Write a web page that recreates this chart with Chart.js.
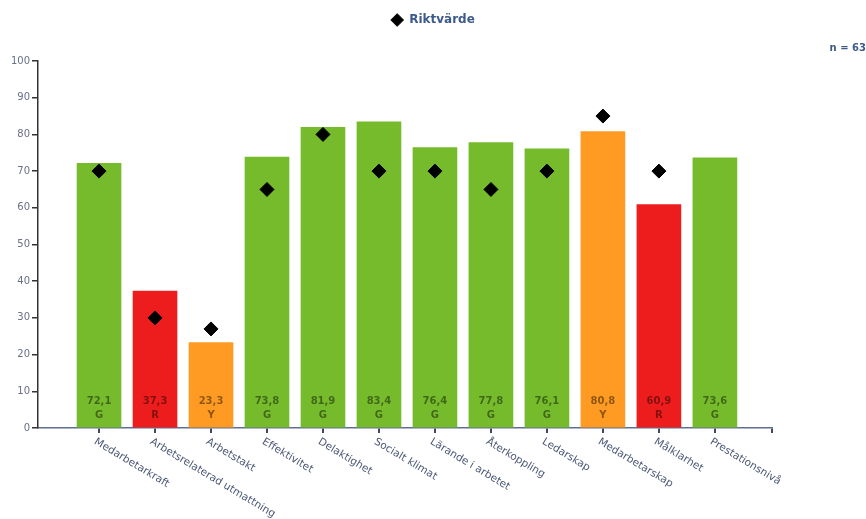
<!DOCTYPE html>
<html>
<head>
<meta charset="utf-8">
<script src="https://cdn.jsdelivr.net/npm/chart.js@4"></script>
<style>
  body { margin: 0; background: #fff; }
  #wrap { width: 866px; height: 519px; position: relative; }
</style>
</head>
<body>
<div id="wrap"><canvas id="chart"></canvas></div>
<script>
// --- data ---
const categories = [
    "Medarbetarkraft", "Arbetsrelaterad utmattning", "Arbetstakt", "Effektivitet",
    "Delaktighet", "Socialt klimat", "Lärande i arbetet", "Återkoppling",
    "Ledarskap", "Medarbetarskap", "Målklarhet", "Prestationsnivå"
];
const values = [72.1, 37.3, 23.3, 73.8, 81.9, 83.4, 76.4, 77.8, 76.1, 80.8, 60.9, 73.6];
const status = ["G", "R", "Y", "G", "G", "G", "G", "G", "G", "Y", "R", "G"];
const riktvarde = [70, 30, 27, 65, 80, 70, 70, 65, 70, 85, 70, null];
const yTicks = [0, 10, 20, 30, 40, 50, 60, 70, 80, 90, 100];
const sampleSize = "n = 63";

const statusColors = { G: "#76bb2b", R: "#ee1d1d", Y: "#ff9b22" };

// categories sit at x = 1..12 on a linear axis, a little room each side
const xMin = -0.09, xMax = 13.02;
const toPoints = arr => arr.map((v, i) => ({ x: i + 1, y: v }));

// rotated category labels, text starts at the tick
const rotatedLabels = {
    id: "rotatedLabels",
    afterDraw(chart) {
        const ctx = chart.ctx;
        const xs = chart.scales.x;
        ctx.save();
        ctx.font = "10.5px 'DejaVu Sans'";
        ctx.fillStyle = "#4a5775";
        ctx.textAlign = "left";
        ctx.textBaseline = "middle";
        categories.forEach((lab, i) => {
            const x = xs.getPixelForValue(i + 1);
            ctx.save();
            ctx.translate(x - 4, xs.top + 13);
            ctx.rotate(Math.PI / 180 * 31);
            ctx.fillText(lab, 0, 0);
            ctx.restore();
        });
        ctx.restore();
    }
};

// value + status inside the bar foot
const barValues = {
    id: "barValues",
    afterDatasetsDraw(chart) {
        const ctx = chart.ctx;
        const meta = chart.getDatasetMeta(0);
        const y0 = chart.scales.y.getPixelForValue(0);
        ctx.save();
        ctx.font = "bold 10px 'DejaVu Sans'";
        ctx.fillStyle = "rgba(0,0,0,0.45)";
        ctx.textAlign = "center";
        ctx.textBaseline = "middle";
        meta.data.forEach((bar, i) => {
            ctx.fillText(values[i].toFixed(1).replace(".", ","), bar.x, y0 - 27);
            ctx.fillText(status[i], bar.x, y0 - 13);
        });
        ctx.restore();
    }
};

new Chart(document.getElementById("chart"), {
    type: "bar",
    data: {
        datasets: [
            {
                label: "Resultat",
                data: toPoints(values),
                backgroundColor: status.map(s => statusColors[s]),
                barThickness: 44,
                order: 2,
            },
            {
                type: "line",
                label: "Riktvärde",
                data: toPoints(riktvarde),
                showLine: false,
                pointStyle: "rectRot",
                pointRadius: 7,
                pointHoverRadius: 7,
                backgroundColor: "#000",
                borderColor: "#000",
                order: 1,
            },
        ],
    },
    options: {
        responsive: true,
        maintainAspectRatio: false,
        animation: false,
        layout: { padding: { left: 0, right: 0, top: 8, bottom: 0 } },
        scales: {
            x: {
                type: "linear",
                min: xMin,
                max: xMax,
                offset: false,
                afterBuildTicks: s => {
                    s.ticks = [...categories.map((c, i) => ({ value: i + 1 })), { value: xMax }];
                },
                grid: { offset: false, drawOnChartArea: false, tickLength: 5, color: "#3f4a60", lineWidth: 2 },
                border: { color: "#5f6f8f", width: 1.5 },
                ticks: { display: false },
                afterFit: s => { s.height = 91; },
            },
            y: {
                min: 0,
                max: 100,
                afterBuildTicks: s => { s.ticks = yTicks.map(v => ({ value: v })); },
                grid: { drawOnChartArea: false, tickLength: 6, color: "#333", lineWidth: 1.5 },
                border: { color: "#333", width: 1.5 },
                ticks: { font: { size: 10, family: "DejaVu Sans" }, color: "#6a6f8a", padding: 2 },
                afterFit: s => { s.width = 38; },
            },
            // empty right-hand margin, keeps the n-label free to reach the edge
            yRight: {
                position: "right",
                display: true,
                grid: { display: false },
                border: { display: false },
                ticks: { display: false },
                afterFit: s => { s.width = 94; },
            },
        },
        plugins: {
            legend: {
                position: "top",
                labels: {
                    filter: item => item.text === "Riktvärde",
                    usePointStyle: true,
                    boxHeight: 9,
                    color: "#3d5a8a",
                    font: { size: 12, family: "DejaVu Sans", weight: "bold" },
                    padding: 6,
                },
            },
            title: {
                display: true,
                text: sampleSize,
                align: "end",
                weight: 500,
                color: "#3d5a8a",
                font: { size: 10, family: "DejaVu Sans", weight: "bold" },
                padding: { top: 6, bottom: 7 },
            },
            tooltip: { enabled: false },
        },
    },
    plugins: [rotatedLabels, barValues],
});
</script>
</body>
</html>
